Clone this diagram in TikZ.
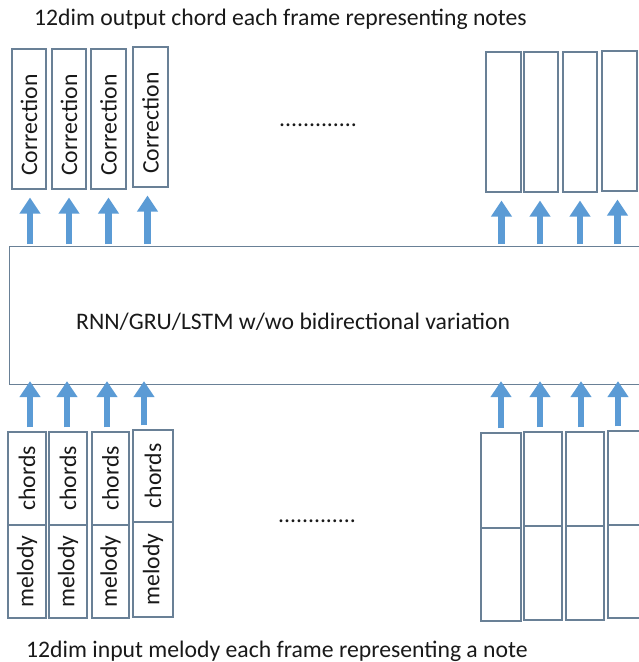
\documentclass[tikz,border=0pt]{standalone}
\usepackage{fontspec}
\setmainfont{Carlito}
\usetikzlibrary{arrows.meta}
\definecolor{boxline}{RGB}{105,128,150}
\definecolor{arrblue}{RGB}{91,155,213}
\definecolor{txt}{RGB}{25,25,25}
\begin{document}
\begin{tikzpicture}[x=1pt,y=-1pt,
  box/.style={draw=boxline, line width=1.1pt, inner sep=0pt},
  lbl/.style={rotate=90, font=\fontsize{23.7}{26}\selectfont, text=txt, inner sep=0pt},
  arr/.style={arrblue, line width=6.5pt, -{Triangle[width=20pt,length=16pt]}},
  big/.style={font=\fontsize{23.7}{28}\selectfont, text=txt, inner sep=0pt}]
\useasboundingbox (0,0) rectangle (639,662);

% titles
\node[big, anchor=base west] (title) at (34,25) {12dim output chord each frame representing notes};
\node[big, anchor=base west] (subtitle) at (26,657) {12dim input melody each frame representing a note};

% middle box
\node[box, minimum width=640pt, minimum height=138pt, anchor=north west] (mid) at (9,246) {};
\node[big, anchor=base west] (midtxt) at (76,329) {RNN/GRU/LSTM w/wo bidirectional variation};

% top output boxes
\node[box, minimum width=34pt, minimum height=140pt] (t1) at (29,119) {};
\node[box, minimum width=34pt, minimum height=140pt] (t2) at (69,119) {};
\node[box, minimum width=35pt, minimum height=140pt] (t3) at (108.5,119) {};
\node[box, minimum width=35pt, minimum height=140pt] (t4) at (150.5,117) {};
\node[lbl] (lt1) at (29,125) {Correction};
\node[lbl] (lt2) at (69,125) {Correction};
\node[lbl] (lt3) at (108.5,125) {Correction};
\node[lbl] (lt4) at (150.5,123) {Correction};

\node[box, minimum width=35pt, minimum height=140pt] (u1) at (503.5,122) {};
\node[box, minimum width=34pt, minimum height=140pt] (u2) at (541,122) {};
\node[box, minimum width=34pt, minimum height=140pt] (u3) at (580,122) {};
\node[box, minimum width=35pt, minimum height=140pt] (u4) at (619.5,121) {};

\node[big, anchor=base west] (dots1) at (279,126) {.............};
\node[big, anchor=base west] (dots2) at (278,522) {.............};

% bottom input boxes (chords / melody)
\node[box, minimum width=38pt, minimum height=93pt] (c1) at (27,478.5) {};
\node[box, minimum width=38pt, minimum height=93pt] (m1) at (27,571.5) {};
\node[box, minimum width=38pt, minimum height=93pt] (c2) at (68,478.5) {};
\node[box, minimum width=38pt, minimum height=93pt] (m2) at (68,571.5) {};
\node[box, minimum width=37pt, minimum height=93pt] (c3) at (110.5,478.5) {};
\node[box, minimum width=37pt, minimum height=93pt] (m3) at (110.5,571.5) {};
\node[box, minimum width=40pt, minimum height=92pt] (c4) at (153,476) {};
\node[box, minimum width=40pt, minimum height=95pt] (m4) at (153,569.5) {};
\node[lbl] (lc1) at (c1) {chords};
\node[lbl] (lm1) at (m1) {melody};
\node[lbl] (lc2) at (c2) {chords};
\node[lbl] (lm2) at (m2) {melody};
\node[lbl] (lc3) at (c3) {chords};
\node[lbl] (lm3) at (m3) {melody};
\node[lbl] (lc4) at (c4) {chords};
\node[lbl] (lm4) at (m4) {melody};

\node[box, minimum width=40pt, minimum height=95pt] (d1) at (501,480.5) {};
\node[box, minimum width=40pt, minimum height=93pt] (e1) at (501,574.5) {};
\node[box, minimum width=38pt, minimum height=94pt] (d2) at (543,479) {};
\node[box, minimum width=38pt, minimum height=94pt] (e2) at (543,573) {};
\node[box, minimum width=38pt, minimum height=94pt] (d3) at (585,479) {};
\node[box, minimum width=38pt, minimum height=94pt] (e3) at (585,573) {};
\node[box, minimum width=40pt, minimum height=94pt] (d4) at (628,478) {};
\node[box, minimum width=40pt, minimum height=93pt] (e4) at (628,571.5) {};

% arrow anchor coordinates
\coordinate (at1) at ([xshift=1pt]t1.south);
\coordinate (at2) at (t2.south);
\coordinate (at3) at (t3.south);
\coordinate (at4) at ([xshift=-3pt]t4.south);
\coordinate (au1) at ([xshift=-2pt]u1.south);
\coordinate (au2) at ([xshift=-1pt]u2.south);
\coordinate (au3) at (u3.south);
\coordinate (au4) at ([xshift=-2pt]u4.south);
\coordinate (ac1) at ([xshift=3pt]c1.north);
\coordinate (ac2) at ([xshift=-1pt]c2.north);
\coordinate (ac3) at ([xshift=-3.5pt]c3.north);
\coordinate (ac4) at ([xshift=-9pt]c4.north);
\coordinate (ad1) at (d1.north);
\coordinate (ad2) at ([xshift=-3pt]d2.north);
\coordinate (ad3) at ([xshift=-4pt]d3.north);
\coordinate (ad4) at ([xshift=-10pt]d4.north);

% output arrows
\foreach \a in {at1,at2,at3,at4,au1,au2,au3,au4}
  \draw[arr, shorten <=2pt, shorten >=8pt] (mid.north -| \a) -- (\a);
% input arrows
\foreach \a in {ac1,ac2,ac3,ac4,ad1,ad2,ad3,ad4}
  \draw[arr, shorten <=4pt, shorten >=-4pt] (\a) -- (mid.south -| \a);
\end{tikzpicture}
\end{document}
